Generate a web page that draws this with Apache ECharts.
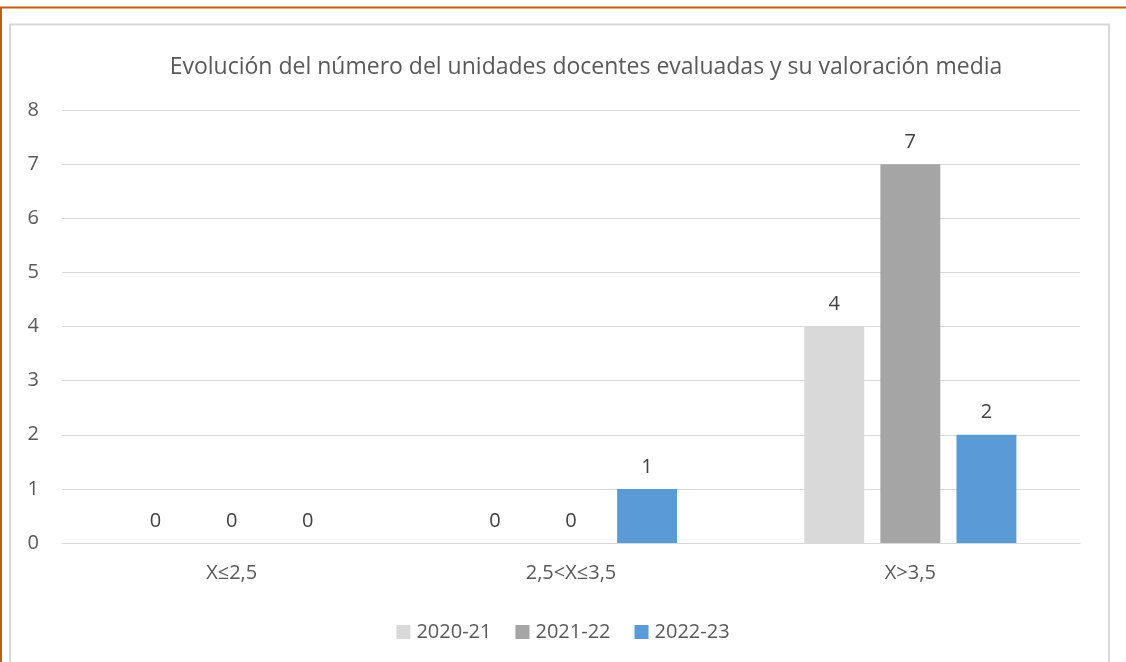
<!DOCTYPE html>
<html><head><meta charset="utf-8">
<script src="https://cdn.jsdelivr.net/npm/echarts@6/dist/echarts.min.js"></script>
<style>html,body{margin:0;padding:0;background:#fff}#c{width:1126px;height:662px}</style>
</head><body><div id="c"></div>
<script>
const categories = ['X≤2,5', '2,5<X≤3,5', 'X>3,5'];
const seriesNames = ['2020-21', '2021-22', '2022-23'];
const s2020 = [0, 0, 4];
const s2021 = [0, 0, 7];
const s2022 = [0, 1, 2];
const colors = ['#D9D9D9', '#A5A5A5', '#5B9BD5'];
const font = '"Open Sans", sans-serif';
const chart = echarts.init(document.getElementById('c'));
const mk = (name, data, color) => ({
  name, type: 'bar', data, barGap: '27%', barCategoryGap: '37.5%',
  itemStyle: {color},
  label: {show: true, position: 'top', distance: 12, color: '#404040', fontSize: 20, fontFamily: font},
  emphasis: {disabled: true}
});
chart.setOption({
  animation: false,
  backgroundColor: '#fff',
  color: colors,
  title: {text: 'Evolución del número del unidades docentes evaluadas y su valoración media', left: 581, textAlign: 'center', top: 51,
    textStyle: {color: '#595959', fontSize: 23, fontWeight: 'normal', fontFamily: font}},
  legend: {top: 617, left: 'center', itemWidth: 14, itemHeight: 14, itemGap: 24, itemStyle: {borderWidth: 0}, icon: 'rect',
    textStyle: {color: '#595959', fontSize: 20, fontFamily: font, padding: [0, 0, 0, 1]}, data: seriesNames},
  grid: {left: 62, right: 46, top: 110, bottom: 119},
  xAxis: {type: 'category', data: categories,
    axisLine: {lineStyle: {color: '#D9D9D9'}}, axisTick: {show: false},
    axisLabel: {color: '#595959', fontSize: 20, margin: 20, fontFamily: font}},
  yAxis: {type: 'value', min: 0, max: 8, interval: 1,
    axisLine: {show: false}, axisTick: {show: false},
    splitLine: {lineStyle: {color: '#D9D9D9'}},
    axisLabel: {color: '#595959', fontSize: 20, margin: 23, fontFamily: font}},
  series: [mk(seriesNames[0], s2020, colors[0]), mk(seriesNames[1], s2021, colors[1]), mk(seriesNames[2], s2022, colors[2])],
  graphic: [
    {type: 'rect', shape: {x: 10, y: 24.5, width: 1099, height: 700}, style: {fill: 'none', stroke: '#D9D9D9', lineWidth: 2}, silent: true},
    {type: 'line', shape: {x1: 0, y1: 7.5, x2: 1126, y2: 7.5}, style: {stroke: '#C55A11', lineWidth: 2}, silent: true},
    {type: 'line', shape: {x1: 1, y1: 7, x2: 1, y2: 662}, style: {stroke: '#C55A11', lineWidth: 2}, silent: true}
  ]
});
</script></body></html>
